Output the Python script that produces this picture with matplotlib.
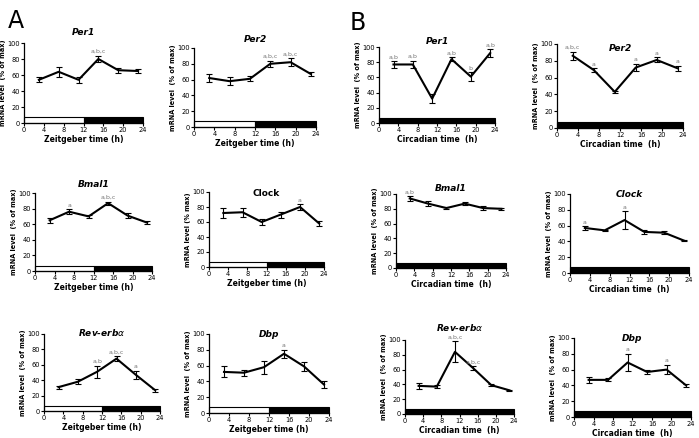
import matplotlib
matplotlib.use('Agg')
import matplotlib.pyplot as plt
from matplotlib.patches import Rectangle

# sampling times (h)
times = [3, 7, 11, 15, 19, 23]
lights_off = 12

# Panel A - Zeitgeber time (light/dark)
a_per1 = [54, 64, 54, 80, 66, 65]
a_per1_err = [3, 6, 4, 4, 3, 3]
a_per2 = [62, 58, 61, 80, 82, 67]
a_per2_err = [5, 5, 3, 4, 5, 3]
a_bmal1 = [65, 76, 70, 87, 71, 62]
a_bmal1_err = [3, 3, 2, 2, 3, 2]
a_clock = [72, 73, 60, 70, 80, 58]
a_clock_err = [7, 6, 4, 4, 4, 3]
a_reverb = [31, 38, 51, 68, 47, 27]
a_reverb_err = [2, 3, 8, 3, 5, 2]
a_dbp = [52, 51, 58, 75, 59, 36]
a_dbp_err = [7, 4, 8, 5, 6, 4]

# Panel B - Circadian time (constant darkness)
b_per1 = [77, 77, 32, 84, 61, 92]
b_per1_err = [4, 5, 6, 3, 6, 5]
b_per2 = [86, 69, 43, 72, 81, 71]
b_per2_err = [5, 2, 1, 4, 3, 3]
b_bmal1 = [94, 87, 81, 87, 81, 80]
b_bmal1_err = [3, 3, 1, 2, 3, 1]
b_clock = [57, 54, 67, 52, 51, 41]
b_clock_err = [2, 1, 11, 2, 2, 1]
b_reverb = [38, 37, 84, 62, 39, 32]
b_reverb_err = [4, 2, 14, 3, 1, 1]
b_dbp = [47, 47, 69, 57, 60, 40]
b_dbp_err = [4, 2, 11, 3, 6, 2]

# significance letters: {time: label}
a_per1_sig = {15: 'a,b,c'}
a_per2_sig = {15: 'a,b,c', 19: 'a,b,c'}
a_bmal1_sig = {7: 'a', 15: 'a,b,c'}
a_clock_sig = {19: 'a'}
a_reverb_sig = {11: 'a,b', 15: 'a,b,c', 19: 'a'}
a_dbp_sig = {15: 'a'}
b_per1_sig = {3: 'a,b', 7: 'a,b', 15: 'a,b', 19: 'b', 23: 'a,b'}
b_per2_sig = {3: 'a,b,c', 7: 'a', 15: 'a', 19: 'a', 23: 'a'}
b_bmal1_sig = {3: 'a,b'}
b_clock_sig = {3: 'a', 11: 'a'}
b_reverb_sig = {11: 'a,b,c', 15: 'a,b,c'}
b_dbp_sig = {11: 'a', 19: 'a'}

W, H = 699, 438
fig = plt.figure(figsize=(W / 100, H / 100), dpi=100)


def make_axes(x0, x1, ytop, ybot):
    return fig.add_axes([x0 / W, 1 - ybot / H, (x1 - x0) / W, (ybot - ytop) / H])


def panel(box, vals, errs, sig, title, xlabel, ylabel, dark_only, title_y=1.08):
    ax = make_axes(*box)
    ax.errorbar(times, vals, yerr=errs, color='black', lw=1.5, capsize=2,
                elinewidth=0.8, capthick=0.8)
    for t, lab in sig.items():
        i = times.index(t)
        ax.text(t, vals[i] + errs[i] + 2, lab, ha='center', va='bottom',
                fontsize=4.5, color='#777777')
    # light/dark bar
    if dark_only:
        ax.add_patch(Rectangle((0, 0.5), 24, 6.5, facecolor='black',
                               edgecolor='black', lw=0.8, clip_on=False))
    else:
        ax.add_patch(Rectangle((0, 0.5), lights_off, 6.5, facecolor='white',
                               edgecolor='black', lw=0.8, clip_on=False))
        ax.add_patch(Rectangle((lights_off, 0.5), 24 - lights_off, 6.5,
                               facecolor='black', edgecolor='black', lw=0.8,
                               clip_on=False))
    ax.set_xlim(0, 24)
    ax.set_ylim(0, 100)
    ax.set_xticks([0, 4, 8, 12, 16, 20, 24])
    ax.set_yticks([0, 20, 40, 60, 80, 100])
    ax.tick_params(labelsize=4.8, length=2, width=0.8, pad=1)
    for s in ['top', 'right']:
        ax.spines[s].set_visible(False)
    for s in ['left', 'bottom']:
        ax.spines[s].set_linewidth(0.9)
    ax.set_title(title, fontsize=6.5, fontstyle='italic', fontweight='bold',
                 y=title_y, pad=0)
    ax.set_xlabel(xlabel, fontsize=5.5, fontweight='bold', labelpad=1)
    ax.set_ylabel(ylabel, fontsize=4.7, fontweight='bold', labelpad=1)
    return ax


zt = 'Zeitgeber time (h)'
ct = 'Circadian time  (h)'
yl = 'mRNA level  (% of max)'

panel((24, 143, 43, 123), a_per1, a_per1_err, a_per1_sig, 'Per1', zt, yl, False, 1.1)
panel((194, 316, 48, 127), a_per2, a_per2_err, a_per2_sig, 'Per2', zt, yl, False, 1.08)
panel((379, 495, 47, 123), b_per1, b_per1_err, b_per1_sig, 'Per1', ct, yl, True, 1.04)
panel((557, 683, 44, 128), b_per2, b_per2_err, b_per2_sig, 'Per2', ct, yl, True, 0.92)

panel((35, 152, 193, 271), a_bmal1, a_bmal1_err, a_bmal1_sig, 'Bmal1', zt, yl, False, 1.08)
ax = panel((209, 324, 192, 267), a_clock, a_clock_err, a_clock_sig, 'Clock', zt,
           'mRNA level (% max)', False, 0.94)
ax.title.set_fontstyle('normal')
panel((396, 506, 194, 268), b_bmal1, b_bmal1_err, b_bmal1_sig, 'Bmal1', ct, yl, True, 1.04)
panel((570, 689, 194, 273), b_clock, b_clock_err, b_clock_sig, 'Clock', ct, yl, True, 0.96)

panel((44, 160, 334, 411), a_reverb, a_reverb_err, a_reverb_sig, r'Rev-erb$\alpha$', zt, yl, False, 0.98)
panel((209, 329, 334, 413), a_dbp, a_dbp_err, a_dbp_sig, 'Dbp', zt, yl, False, 0.96)
panel((405, 514, 340, 414), b_reverb, b_reverb_err, b_reverb_sig, r'Rev-erb$\alpha$', ct, yl, True, 1.12)
panel((574, 691, 338, 417), b_dbp, b_dbp_err, b_dbp_sig, 'Dbp', ct, yl, True, 0.96)

fig.text(8 / W, 1 - 28 / H, 'A', fontsize=17)
fig.text(350 / W, 1 - 30 / H, 'B', fontsize=17)

fig.savefig('out.png', dpi=100)
